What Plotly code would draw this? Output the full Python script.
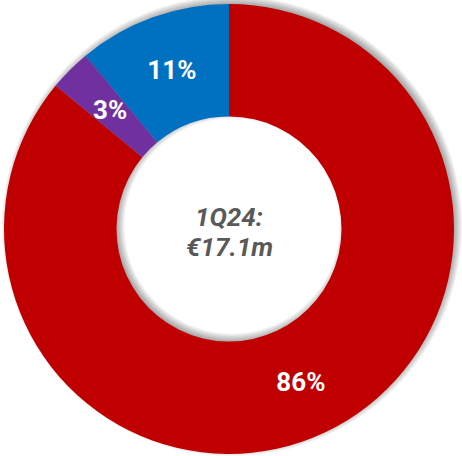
import numpy as np
import plotly.graph_objects as go

# Revenue split for the quarter
segments = ["Segment A", "Segment B", "Segment C"]
shares = [86, 3, 11]
colors = ["#C00000", "#7030A0", "#0070C0"]
center_lines = ["1Q24:", "€17.1m"]

W, H = 462, 456
CX, CY = 229, 229          # donut centre in px (from top-left)
R_OUT = 225                # outer radius in px
HOLE = 0.5                 # hole as a fraction of the radius
SMALL_SLICE = 5            # slices below this share get a free-floating label
LABEL_FONT = dict(family="Roboto", size=26, color="white", weight="bold")

# soft drop shadow: offset and blur in px
SH_DX, SH_DY, SH_BLUR, SH_ALPHA = 3, -3, 5, 0.045


def circle_path(cx, cy, r, n=240):
    t = np.linspace(0, 2 * np.pi, n, endpoint=False)
    xs = (cx + r * np.cos(t)) / W
    ys = 1 - (cy + r * np.sin(t)) / H
    pts = " L".join(f"{x:.5f},{y:.5f}" for x, y in zip(xs, ys))
    return "M" + pts + " Z"


shadow_shapes = []
r_in = R_OUT * HOLE
for k in range(-SH_BLUR, SH_BLUR + 1):
    path = circle_path(CX + SH_DX, CY + SH_DY, R_OUT + k) + " " + \
        circle_path(CX + SH_DX, CY + SH_DY, max(r_in - k, 1))
    shadow_shapes.append(dict(
        type="path", xref="paper", yref="paper", path=path,
        fillcolor=f"rgba(0,0,0,{SH_ALPHA})", fillrule="evenodd",
        line=dict(width=0), layer="below",
    ))

texts = ["" if v < SMALL_SLICE else f"{v}%" for v in shares]

fig = go.Figure(go.Pie(
    labels=segments,
    values=shares,
    sort=False,
    direction="clockwise",
    rotation=0,
    hole=HOLE,
    marker=dict(colors=colors, line=dict(width=0)),
    text=texts,
    textinfo="text",
    textposition="inside",
    insidetextorientation="horizontal",
    textfont=LABEL_FONT,
    domain=dict(
        x=[(CX - R_OUT) / W, (CX + R_OUT) / W],
        y=[1 - (CY + R_OUT) / H, 1 - (CY - R_OUT) / H],
    ),
    showlegend=False,
    hoverinfo="label+percent",
))

# labels for thin slices: centred on the slice's mid-angle, mid-ring
total = sum(shares)
start = 0.0
r_mid = (r_in + R_OUT) / 2
for v in shares:
    mid = 2 * np.pi * (start + v / 2) / total   # clockwise from 12 o'clock
    start += v
    if v >= SMALL_SLICE:
        continue
    px = CX + r_mid * np.sin(mid)
    py = CY - r_mid * np.cos(mid)
    fig.add_annotation(
        x=px / W, y=1 - py / H, xref="paper", yref="paper",
        xanchor="center", yanchor="middle",
        text=f"{v}%", showarrow=False, font=LABEL_FONT,
    )

# centre caption, one annotation per line for tighter leading
LINE_GAP = 30
for i, line in enumerate(center_lines):
    fig.add_annotation(
        x=CX / W, y=1 - CY / H, xref="paper", yref="paper",
        xanchor="center", yanchor="middle",
        yshift=-(i - 0.5) * LINE_GAP - 3,
        text=line, showarrow=False, align="center",
        font=dict(family="Roboto", size=26, color="#595959",
                  weight="bold", style="italic"),
    )

fig.update_layout(
    width=W, height=H,
    margin=dict(l=0, r=0, t=0, b=0),
    paper_bgcolor="white",
    plot_bgcolor="white",
    shapes=shadow_shapes,
)

fig.write_html("out.html")
